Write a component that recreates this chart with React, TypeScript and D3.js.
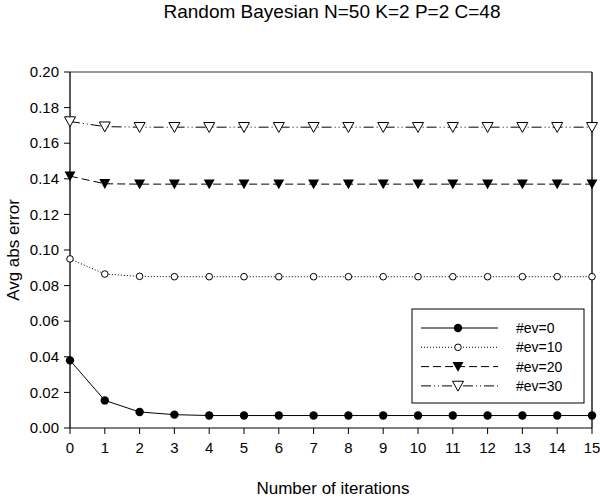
import React from 'react'
import {scaleLinear, line, range} from 'd3'

const iterations = range(0, 16)
const ev0 = [0.038, 0.0155, 0.009, 0.0075, 0.007, 0.007, 0.007, 0.007, 0.007, 0.007, 0.007, 0.007, 0.007, 0.007, 0.007, 0.007]
const ev10 = [0.095, 0.0865, 0.0852, 0.085, 0.085, 0.085, 0.085, 0.085, 0.085, 0.085, 0.085, 0.085, 0.085, 0.085, 0.085, 0.085]
const ev20 = [0.1415, 0.1372, 0.137, 0.137, 0.137, 0.137, 0.137, 0.137, 0.137, 0.137, 0.137, 0.137, 0.137, 0.137, 0.137, 0.137]
const ev30 = [0.1722, 0.1693, 0.169, 0.169, 0.169, 0.169, 0.169, 0.169, 0.169, 0.169, 0.169, 0.169, 0.169, 0.169, 0.169, 0.169]
const yTicks = [0, 0.02, 0.04, 0.06, 0.08, 0.1, 0.12, 0.14, 0.16, 0.18, 0.2]

const series = [
  {name: '#ev=0', values: ev0, dash: '', marker: 'dot'},
  {name: '#ev=10', values: ev10, dash: '1,2', marker: 'ring'},
  {name: '#ev=20', values: ev20, dash: '8,4', marker: 'tri'},
  {name: '#ev=30', values: ev30, dash: '10,3,1,3,1,3', marker: 'otri'},
]

const font = 'Liberation Sans, Arial, sans-serif'

const Marker = ({kind, x, y}: {kind: string, x: number, y: number}) => {
  if (kind === 'dot') return <circle cx={x} cy={y} r={4.2} fill="#000" />
  if (kind === 'ring') return <circle cx={x} cy={y} r={3.3} fill="#fff" stroke="#000" strokeWidth={1} />
  const s = 5.5
  const p = `M${x - s},${y - s * 0.85}L${x + s},${y - s * 0.85}L${x},${y + s * 0.95}Z`
  return kind === 'tri'
    ? <path d={p} fill="#000" />
    : <path d={p} fill="#fff" stroke="#000" strokeWidth={1} />
}

const App = () => {
  const left = 70, right = 592, top = 72, bottom = 428
  const x = scaleLinear().domain([0, 15]).range([left, right])
  const y = scaleLinear().domain([0, 0.2]).range([bottom, top])
  const path = line<number>().x((d, i) => x(iterations[i])).y(d => y(d))

  return (
    <svg width={600} height={498} style={{position: 'absolute', left: 0, top: 0}} fontFamily={font}>
      <rect width={600} height={498} fill="#fff" />
      <text x={332} y={18} textAnchor="middle" fontSize={19}>Random Bayesian N=50 K=2 P=2 C=48</text>

      <line x1={left} x2={right} y1={top} y2={top} stroke="#777" strokeWidth={1.5} />
      <line x1={left} x2={right} y1={bottom} y2={bottom} stroke="#555" strokeWidth={1.3} />
      <line x1={left} x2={left} y1={top} y2={bottom} stroke="#000" strokeWidth={1.3} />
      <line x1={right} x2={right} y1={top} y2={bottom} stroke="#000" strokeWidth={1.3} />

      {yTicks.map(t => (
        <g key={t}>
          <line x1={left - 6} x2={left} y1={y(t)} y2={y(t)} stroke="#000" />
          <text x={left - 11} y={y(t)} dy="0.35em" textAnchor="end" fontSize={15}>{t.toFixed(2)}</text>
        </g>
      ))}
      {iterations.map(t => (
        <g key={t}>
          <line x1={x(t)} x2={x(t)} y1={bottom} y2={bottom + 6} stroke="#000" />
          <text x={x(t)} y={bottom + 25} textAnchor="middle" fontSize={15}>{t}</text>
        </g>
      ))}
      <text x={333} y={494} textAnchor="middle" fontSize={17}>Number of iterations</text>
      <text transform={`translate(19,${(top + bottom) / 2}) rotate(-90)`} textAnchor="middle" fontSize={17}>Avg abs error</text>

      {series.map(s => (
        <g key={s.name}>
          <path d={path(s.values) || ''} fill="none" stroke="#000" strokeWidth={1} strokeDasharray={s.dash} />
          {s.values.map((v, i) => <Marker key={i} kind={s.marker} x={x(iterations[i])} y={y(v)} />)}
        </g>
      ))}

      <rect x={412} y={309} width={172} height={94} fill="#fff" stroke="#000" strokeWidth={1} />
      {series.map((s, i) => {
        const ly = 328 + i * 19.3
        return (
          <g key={s.name}>
            <line x1={421} x2={498} y1={ly} y2={ly} stroke="#000" strokeDasharray={s.dash} />
            <Marker kind={s.marker} x={458} y={ly} />
            <text x={516} y={ly} dy="0.35em" fontSize={14}>{s.name}</text>
          </g>
        )
      })}
    </svg>
  )
}

export default App
